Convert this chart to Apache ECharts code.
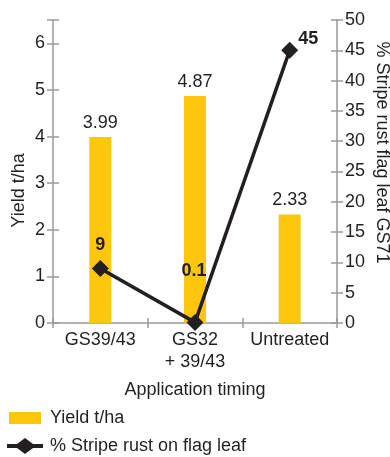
<!DOCTYPE html>
<html><head><meta charset="utf-8">
<script src="https://cdn.jsdelivr.net/npm/echarts@6/dist/echarts.min.js"></script>
<style>html,body{margin:0;padding:0;background:#fff}#c{width:390px;height:457px}</style>
</head><body><div id="c"></div>
<script>
const categories = ['GS39/43', 'GS32\n+ 39/43', 'Untreated'];
const yieldValues = [3.99, 4.87, 2.33];
const rustValues = [9, 0.1, 45];
const yieldTicks = [0, 1, 2, 3, 4, 5, 6];
const rustTicks = [0, 5, 10, 15, 20, 25, 30, 35, 40, 45, 50];

const FONT = '"Liberation Sans", Arial, sans-serif';
const TXT = '#231f20';
const AX = '#9a9a9a';
const chart = echarts.init(document.getElementById('c'));
const axisLine = {show: true, lineStyle: {color: AX, width: 1.5}};
const tickOut = {show: true, length: 6, lineStyle: {color: AX, width: 1.5}};
const tickIn = {show: true, inside: true, length: 6, lineStyle: {color: AX, width: 1.5}};

const rustLabels = [
  {position: 'top', distance: 6},
  {position: 'top', distance: 34, offset: [-1, 0]},
  {position: 'right', distance: 0, offset: [0, -11]}
];

const legendText = {fontFamily: FONT, fontSize: 18, color: TXT};

chart.setOption({
  animation: false,
  textStyle: {fontFamily: FONT},
  grid: {left: 53, right: 53, top: 20, bottom: 134, containLabel: false, outerBoundsMode: 'none'},
  legend: [{
    left: 9, top: 409, padding: 0, itemWidth: 32, itemHeight: 12,
    textStyle: Object.assign({padding: [0, 0, 0, 4]}, legendText),
    data: [{name: 'Yield t/ha', icon: 'rect'}]
  }, {
    left: 7, top: 437, padding: 0, itemWidth: 36, itemHeight: 16,
    textStyle: Object.assign({padding: [0, 0, 0, 2]}, legendText),
    data: [{name: '% Stripe rust on flag leaf',
      icon: 'path://M0,6 L10,6 L18,0 L26,6 L36,6 L36,10 L26,10 L18,16 L10,10 L0,10 Z'}]
  }],
  xAxis: [{
    type: 'category', data: categories,
    name: 'Application timing', nameLocation: 'middle', nameGap: 58,
    nameTextStyle: {fontFamily: FONT, fontSize: 18, color: TXT},
    axisLine: axisLine,
    axisTick: {show: true, length: 5, lineStyle: {color: AX, width: 1.5}},
    axisLabel: {fontFamily: FONT, fontSize: 18, color: TXT, margin: 6, lineHeight: 22, interval: 0}
  }, {
    type: 'category', data: categories, position: 'bottom',
    axisLine: {show: false}, axisLabel: {show: false},
    axisTick: {show: true, inside: true, length: 5, lineStyle: {color: AX, width: 1.5}}
  }],
  yAxis: [{
    type: 'value', min: 0, max: 6.5, interval: 1, position: 'left',
    name: 'Yield t/ha', nameLocation: 'middle', nameGap: 25, nameRotate: 90, nameMoveOverlap: false,
    nameTextStyle: {fontFamily: FONT, fontSize: 18, color: TXT, padding: [0, 38, 0, 0]},
    axisLine: axisLine, axisTick: tickOut, splitLine: {show: false},
    axisLabel: {fontFamily: FONT, fontSize: 18, color: TXT, margin: 8,
      formatter: v => yieldTicks.includes(v) ? String(v) : ''}
  }, {
    type: 'value', min: 0, max: 50, interval: 5, position: 'right',
    name: '% Stripe rust flag leaf GS71', nameLocation: 'middle', nameGap: 36, nameRotate: -90, nameMoveOverlap: false,
    nameTextStyle: {fontFamily: FONT, fontSize: 18, color: TXT, padding: [0, 38, 0, 0]},
    axisLine: axisLine, axisTick: tickOut, splitLine: {show: false},
    axisLabel: {fontFamily: FONT, fontSize: 18, color: TXT, margin: 8,
      formatter: v => rustTicks.includes(v) ? String(v) : ''}
  }, {
    type: 'value', min: 0, max: 6.5, interval: 1, position: 'left',
    axisLine: {show: false}, axisTick: tickIn, axisLabel: {show: false}, splitLine: {show: false}
  }, {
    type: 'value', min: 0, max: 50, interval: 5, position: 'right',
    axisLine: {show: false}, axisTick: tickIn, axisLabel: {show: false}, splitLine: {show: false}
  }],
  series: [{
    name: 'Yield t/ha', type: 'bar', data: yieldValues, yAxisIndex: 0, barWidth: 22,
    itemStyle: {color: '#ffc70b'},
    label: {show: true, position: 'top', distance: 5, fontFamily: FONT, fontSize: 18, color: TXT,
      formatter: p => p.value.toFixed(2)}
  }, {
    name: '% Stripe rust on flag leaf', type: 'line', yAxisIndex: 1,
    data: rustValues.map((v, i) => ({value: v, label: rustLabels[i]})),
    symbol: 'diamond', symbolSize: 17,
    lineStyle: {color: TXT, width: 3.5}, itemStyle: {color: TXT},
    label: {show: true, fontFamily: FONT, fontSize: 18, fontWeight: 'bold', color: TXT}
  }]
});
</script></body></html>
